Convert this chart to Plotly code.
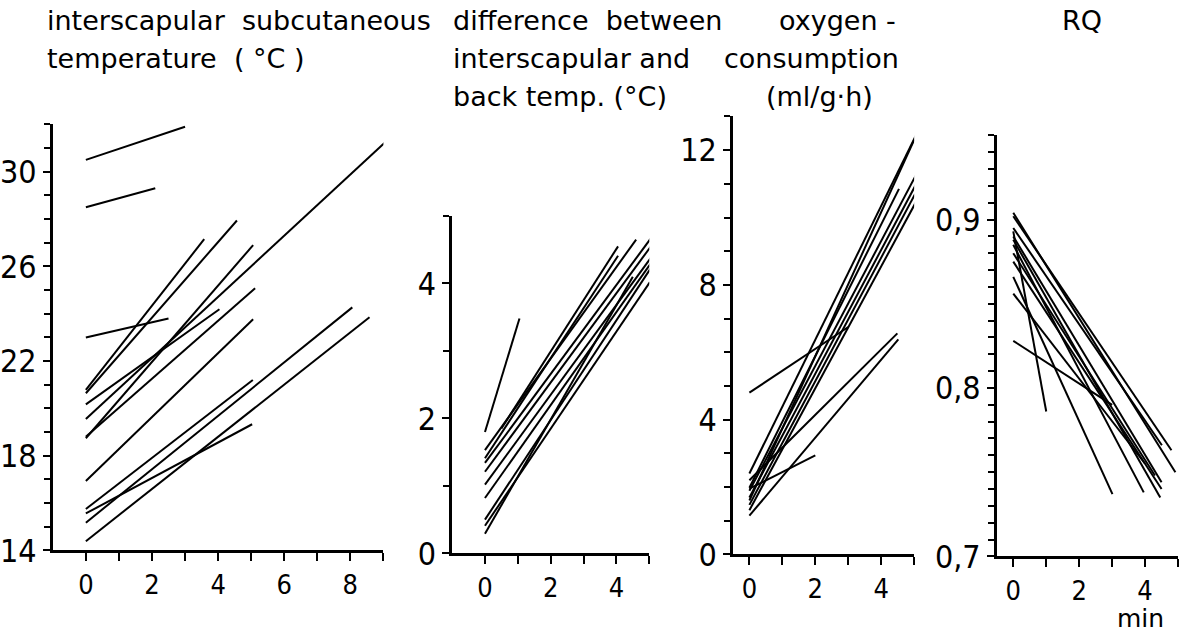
import plotly.graph_objects as go

W, H = 1185, 642
K = 0.975  # vertical compensation observed for the page photograph

# ---------------- data ----------------
# Panel 1: interscapular subcutaneous temperature (°C) vs time (min)
p1_t0 = [0, 0, 0, 0, 0, 0, 0, 0, 0, 0, 0, 0, 0, 0]
p1_v0 = [30.5, 28.5, 23.0, 20.78, 20.64, 20.17, 19.55, 18.74, 18.8, 16.93, 15.75, 15.56, 15.17, 14.39]
p1_t1 = [3.0, 2.1, 2.5, 3.58, 4.57, 4.04, 9.1, 5.06, 5.12, 5.06, 5.05, 5.03, 8.06, 8.58]
p1_v1 = [31.9, 29.3, 23.8, 27.15, 27.94, 24.19, 31.3, 26.9, 25.08, 23.77, 21.2, 19.33, 24.27, 23.85]

# Panel 2: difference between interscapular and back temp. (°C)
p2_t0 = [0, 0.5, 0, 0, 0, 0, 0, 0, 0, 0, 0]
p2_v0 = [1.80, 1.85, 1.53, 1.41, 1.34, 1.21, 1.02, 0.82, 0.50, 0.41, 0.29]
p2_t1 = [1.05, 4.05, 4.6, 4.05, 5.05, 5.05, 5.05, 5.05, 5.05, 5.02, 4.5]
p2_v1 = [3.48, 4.55, 4.65, 4.41, 4.67, 4.55, 4.38, 4.30, 4.23, 4.02, 4.10]

# Panel 3: oxygen consumption (ml/g·h)
p3_t0 = [0, 0, 0, 0, 0, 0, 0, 0, 0, 0, 0]
p3_v0 = [4.8, 2.4, 1.98, 1.89, 1.69, 1.47, 1.31, 1.6, 1.95, 2.2, 1.15]
p3_t1 = [3.0, 5.06, 4.54, 5.05, 5.05, 5.03, 5.05, 5.0, 2.0, 4.49, 4.52]
p3_v1 = [6.75, 12.45, 10.85, 11.25, 10.97, 10.7, 10.45, 12.3, 2.94, 6.56, 6.38]

# Panel 4: RQ
p4_t0 = [0, 0, 0, 0, 0, 0, 0, 0, 0, 0, 0, 0]
p4_v0 = [0.904, 0.902, 0.895, 0.893, 0.890, 0.888, 0.885, 0.880, 0.866, 0.856, 0.828, 0.875]
p4_t1 = [4.92, 4.8, 4.51, 1.0, 4.5, 4.46, 3.96, 4.3, 3.01, 4.0, 3.0, 4.5]
p4_v1 = [0.750, 0.763, 0.766, 0.786, 0.744, 0.735, 0.738, 0.748, 0.737, 0.755, 0.790, 0.740]

# tick labels
p1_xticks = [0, 2, 4, 6, 8]
p1_yticks = [14, 18, 22, 26, 30]
p2_xticks = [0, 2, 4]
p2_yticks = [0, 2, 4]
p3_xticks = [0, 2, 4]
p3_yticks = [0, 4, 8, 12]
p4_xticks = [0, 2, 4]
p4_yticks = [0.7, 0.8, 0.9]
p4_ytext = ["0,7", "0,8", "0,9"]

panels = [
    (p1_t0, p1_v0, p1_t1, p1_v1),
    (p2_t0, p2_v0, p2_t1, p2_v1),
    (p3_t0, p3_v0, p3_t1, p3_v1),
    (p4_t0, p4_v0, p4_t1, p4_v1),
]

# ---------------- layout geometry (pixels, as seen in the reference) ----------------
boxes = [  # left, right, top, bottom in px
    (48, 380, 125, 553),
    (449, 647, 217, 556),
    (731, 913, 117, 557),
    (996, 1178, 136, 559),
]
xranges = [[-1, 9], [-1, 5], [-0.5, 5], [-0.5, 5]]
yranges = [[14, 32], [0, 5], [0, 13], [0.7, 0.95]]


def py(ypx):
    """reference pixel row -> paper fraction (with vertical compensation)"""
    return 1 - (ypx / K) / H


fig = go.Figure()
for i, (t0, v0, t1, v1) in enumerate(panels):
    ax = "" if i == 0 else str(i + 1)
    for a, b, c, d in zip(t0, v0, t1, v1):
        fig.add_trace(go.Scatter(x=[a, c], y=[b, d], mode="lines",
                                 line=dict(color="black", width=2),
                                 xaxis="x" + ax, yaxis="y" + ax,
                                 showlegend=False, hoverinfo="skip"))

fam = "Liberation Sans Narrow, DejaVu Sans Condensed, Liberation Sans, sans-serif"
ytickfont = dict(family=fam, size=32, color="black")
xtickfont = dict(family=fam, size=27, color="black")


def minor_vals(lo, hi, step, majors):
    out = []
    n = int(round((hi - lo) / step))
    for k in range(n + 1):
        v = round(lo + k * step, 4)
        if all(abs(v - m) > 1e-9 for m in majors):
            out.append(v)
    return out


xt = [p1_xticks, p2_xticks, p3_xticks, p4_xticks]
yt = [p1_yticks, p2_yticks, p3_yticks, p4_yticks]
ytext = [None, None, None, p4_ytext]
xminor = [minor_vals(0, 9, 1, p1_xticks), minor_vals(0, 5, 1, p2_xticks),
          minor_vals(0, 5, 1, p3_xticks), minor_vals(0, 5, 1, p4_xticks)]
yminor = [minor_vals(14, 32, 1, p1_yticks), minor_vals(0, 5, 1, p2_yticks),
          minor_vals(0, 13, 1, p3_yticks), minor_vals(0.7, 0.95, 0.01, p4_yticks)]

layout = dict(width=W, height=H, margin=dict(l=0, r=0, t=0, b=0),
              plot_bgcolor="white", paper_bgcolor="white", showlegend=False)
for i, (l, r, t, b) in enumerate(boxes):
    ax = "" if i == 0 else str(i + 1)
    xd = [l / W, r / W]
    yd = [py(b), py(t)]
    layout["xaxis" + ax] = dict(
        domain=xd, range=xranges[i], anchor="y" + ax,
        showline=True, linecolor="black", linewidth=2.5, showgrid=False, zeroline=False,
        ticks="outside", ticklen=8, tickwidth=2, tickcolor="black",
        tickmode="array", tickvals=xt[i], tickfont=xtickfont,
        minor=dict(tickmode="array", tickvals=xminor[i], ticks="outside",
                   ticklen=8, tickwidth=2, tickcolor="black", showgrid=False),
        fixedrange=True)
    yax = dict(
        domain=yd, range=yranges[i], anchor="x" + ax,
        showline=True, linecolor="black", linewidth=2.5, showgrid=False, zeroline=False,
        ticks="outside", ticklen=7, tickwidth=2, tickcolor="black",
        tickmode="array", tickvals=yt[i], tickfont=ytickfont,
        minor=dict(tickmode="array", tickvals=yminor[i], ticks="outside",
                   ticklen=6, tickwidth=2, tickcolor="black", showgrid=False),
        fixedrange=True)
    if ytext[i] is not None:
        yax["ticktext"] = ytext[i]
    layout["yaxis" + ax] = yax

fig.update_layout(**layout)

tfont = dict(family="DejaVu Sans, sans-serif", size=27, color="black")
titles = [  # text, x px, y px (center), anchor, size
    ("interscapular\u00a0 subcutaneous", 41, 21, "left", 27),
    ("temperature\u00a0 (\u00a0°C\u00a0)", 41, 59, "left", 27),
    ("difference\u00a0 between", 449, 21, "left", 27),
    ("interscapular and", 449, 59, "left", 27),
    ("back temp. (°C)", 449, 97, "left", 27),
    ("oxygen -", 836, 21, "center", 27),
    ("consumption", 810, 59, "center", 27),
    ("(ml/g·h)", 818, 97, "center", 27),
    ("RQ", 1082, 21, "center", 27),
    ("min", 1140, 621, "center", 25),
]
for txt, x, y, anc, sz in titles:
    fig.add_annotation(text=txt, x=x / W, y=py(y), xref="paper", yref="paper",
                       xanchor=anc, yanchor="middle", showarrow=False,
                       font=dict(family=tfont["family"], size=sz, color="black"),
                       borderpad=0)

fig.write_html("out.html")
